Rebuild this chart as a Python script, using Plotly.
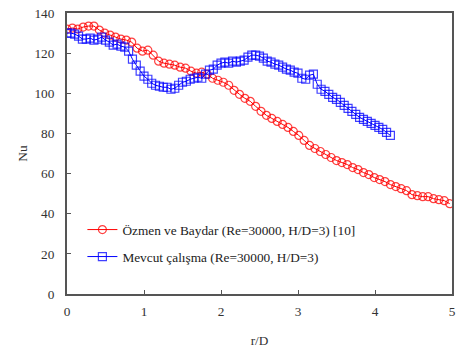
import plotly.graph_objects as go

# Özmen ve Baydar (Re=30000, H/D=3) [10]
red_x = [0.00, 0.07, 0.14, 0.21, 0.28, 0.35, 0.42, 0.49, 0.56, 0.63, 0.70, 0.77,
         0.84, 0.91, 0.98, 1.05, 1.12, 1.19, 1.26, 1.33, 1.40, 1.47, 1.54, 1.61,
         1.68, 1.75, 1.82, 1.89, 1.96, 2.03, 2.10, 2.17, 2.24, 2.31, 2.38, 2.45,
         2.52, 2.59, 2.66, 2.73, 2.80, 2.87, 2.94, 3.01, 3.08, 3.15, 3.22, 3.29,
         3.36, 3.43, 3.50, 3.57, 3.64, 3.71, 3.78, 3.85, 3.92, 3.99, 4.06, 4.13,
         4.20, 4.27, 4.34, 4.41, 4.48, 4.55, 4.62, 4.69, 4.76, 4.83, 4.90, 4.97]
red_y = [132, 132.5, 132, 133, 133.5, 133.5, 131.5, 130, 129, 128, 127, 126.5,
         125.5, 122.5, 121, 121.5, 119, 116, 115, 114.5, 114, 113, 112.5, 111,
         110, 110.5, 109.5, 107.5, 106.5, 105.5, 104, 101.5, 99.5, 97.5, 96, 93.5,
         91, 89, 87.5, 86, 84.5, 83, 81, 79, 76.5, 74, 72.5, 71,
         69.5, 68, 66.5, 65.5, 64.5, 63, 62, 60.5, 59.5, 58, 57, 56,
         54.5, 53.5, 52.5, 51.5, 49.5, 49, 48.5, 48.5, 47.5, 47, 46.5, 45]

# Mevcut çalışma (Re=30000, H/D=3)
blue_x = [0.00, 0.05, 0.10, 0.15, 0.20, 0.25, 0.30, 0.35, 0.40, 0.45, 0.50, 0.55,
          0.60, 0.65, 0.70, 0.75, 0.80, 0.85, 0.90, 0.95, 1.00, 1.05, 1.10, 1.15,
          1.20, 1.25, 1.30, 1.35, 1.40, 1.45, 1.50, 1.55, 1.60, 1.65, 1.70, 1.75,
          1.80, 1.85, 1.90, 1.95, 2.00, 2.05, 2.10, 2.15, 2.20, 2.25, 2.30, 2.35,
          2.40, 2.45, 2.50, 2.55, 2.60, 2.65, 2.70, 2.75, 2.80, 2.85, 2.90, 2.95,
          3.00, 3.05, 3.10, 3.15, 3.20, 3.25, 3.30, 3.35, 3.40, 3.45, 3.50, 3.55,
          3.60, 3.65, 3.70, 3.75, 3.80, 3.85, 3.90, 3.95, 4.00, 4.05, 4.10, 4.15, 4.20]
blue_y = [130, 130, 129.5, 128.5, 127, 127, 127.5, 126.5, 127, 128, 126.5, 125.5,
          124, 124.5, 123.5, 123, 121, 117, 114, 111, 108.5, 107, 105, 104,
          103.5, 103, 103, 102, 102.5, 104, 105.5, 106, 107, 107.5, 108, 107.5,
          109.5, 111.5, 112, 114, 115, 115.5, 115, 116, 115.5, 116, 116.5, 118,
          119, 119, 118.5, 117.5, 116, 115.5, 114.5, 114, 113, 112, 111.5, 110.5,
          110, 107.5, 107, 109, 109.5, 104.5, 102, 101, 99.5, 98, 97, 95.5,
          94, 92.5, 91, 89.5, 88, 87, 86, 85, 84, 83, 82, 80.5, 79]

x_ticks = [0, 1, 2, 3, 4, 5]
y_ticks = [0, 20, 40, 60, 80, 100, 120, 140]

FONT = "Liberation Serif"
AX = "#555555"

fig = go.Figure()
fig.add_trace(go.Scatter(
    x=red_x, y=red_y, mode="lines+markers",
    name="Özmen ve Baydar (Re=30000, H/D=3) [10]",
    line=dict(color="#ff0000", width=1),
    marker=dict(symbol="circle-open", size=8, color="rgba(255,0,0,0.75)",
                line=dict(width=1.2)),
    legend="legend",
))
fig.add_trace(go.Scatter(
    x=blue_x, y=blue_y, mode="lines+markers",
    name="Mevcut çalışma (Re=30000, H/D=3)",
    line=dict(color="#0000ff", width=1),
    marker=dict(symbol="square-open", size=8, color="rgba(0,0,255,0.75)",
                line=dict(width=1.2)),
    legend="legend2",
))

fig.update_layout(
    width=457, height=349,
    margin=dict(l=67, r=1, t=13, b=55),
    paper_bgcolor="white", plot_bgcolor="white",
    font=dict(family=FONT, size=13.3, color="#333333"),
    legend=dict(x=0.04, y=0.228, xanchor="left", yanchor="middle",
                bgcolor="rgba(0,0,0,0)", font=dict(family=FONT, size=13.3, color="#222")),
    legend2=dict(x=0.04, y=0.132, xanchor="left", yanchor="middle",
                 bgcolor="rgba(0,0,0,0)", font=dict(family=FONT, size=13.3, color="#222")),
    showlegend=True,
)
fig.update_xaxes(
    range=[0, 5], tickvals=x_ticks, ticks="inside", ticklen=4, tickcolor=AX,
    showline=True, linecolor=AX, linewidth=2, mirror=True, showgrid=False,
    zeroline=False, ticklabelstandoff=4, ticklabeloverflow="allow",
    tickfont=dict(family=FONT, size=13.3),
    title=dict(text="r/D", standoff=18, font=dict(family=FONT, size=13.3)),
)
fig.update_yaxes(
    range=[0, 140], tickvals=y_ticks, ticks="inside", ticklen=4, tickcolor=AX,
    showline=True, linecolor=AX, linewidth=2, mirror=True, showgrid=False,
    zeroline=False, ticklabelstandoff=8,
    tickfont=dict(family=FONT, size=13.3),
    title=dict(text="Nu", standoff=4, font=dict(family=FONT, size=13.3)),
)

fig.write_html("out.html")
